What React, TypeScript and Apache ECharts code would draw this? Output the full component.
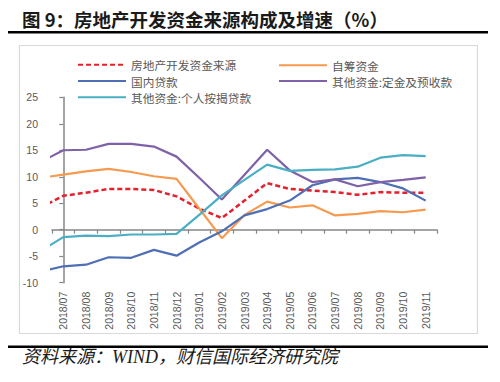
import React, { useEffect, useRef } from "react";
import * as echarts from "echarts";

const categories = [
  "2018/07", "2018/08", "2018/09", "2018/10", "2018/11", "2018/12",
  "2019/01", "2019/02", "2019/03", "2019/04", "2019/05", "2019/06",
  "2019/07", "2019/08", "2019/09", "2019/10", "2019/11",
];
const yTicks = { min: -10, max: 25, interval: 5 };

// 2018/06 values (only the clipped lead-in segment left of the first month is visible)
const leadIn = { total: 4.2, selfRaised: 9.8, domestic: -7.9, deposits: 12.8, mortgages: -4.0 };

const totalFunds = [6.4, 7.0, 7.7, 7.7, 7.5, 6.3, 4.0, 2.2, 5.5, 8.8, 7.7, 7.4, 7.1, 6.6, 7.1, 7.0, 7.0];
const selfRaised = [10.4, 11.0, 11.5, 10.9, 10.1, 9.6, 4.0, -1.6, 2.8, 5.3, 4.2, 4.6, 2.7, 3.0, 3.5, 3.3, 3.8];
const domesticLoans = [-6.9, -6.6, -5.2, -5.3, -3.8, -4.9, -2.4, -0.3, 2.7, 3.9, 5.5, 8.4, 9.5, 9.8, 9.0, 7.8, 5.5];
const deposits = [15.0, 15.1, 16.2, 16.2, 15.7, 13.8, 9.8, 5.7, 10.4, 15.1, 11.2, 9.0, 9.5, 8.2, 9.0, 9.4, 9.9];
const mortgages = [-1.4, -1.1, -1.2, -0.9, -0.9, -0.8, 2.8, 6.5, 9.4, 12.3, 11.1, 11.3, 11.4, 11.9, 13.6, 14.1, 13.9];

const names = {
  total: "房地产开发资金来源",
  selfRaised: "自筹资金",
  domestic: "国内贷款",
  deposits: "其他资金:定金及预收款",
  mortgages: "其他资金:个人按揭贷款",
};

const toPoints = (lead: number, vals: number[]) =>
  [[-1, lead] as [number, number]].concat(vals.map((v, i) => [i, v] as [number, number]));

const GRAY = "#595959";
const AXIS = "#868686";
const CJK = "'Noto Sans CJK SC', sans-serif";
const NUM = "'Liberation Sans', Arial, sans-serif";

export default function App() {
  const ref = useRef<HTMLDivElement>(null);
  useEffect(() => {
    if (!ref.current) return;
    const chart = echarts.init(ref.current, null, { renderer: "svg" });
    const mk = (name: string, lead: number, vals: number[], color: string, extra: any = {}) => ({
      name,
      type: "line",
      xAxisIndex: 2,
      yAxisIndex: 0,
      symbol: "none",
      clip: true,
      data: toPoints(lead, vals),
      lineStyle: { color, width: 2.2, ...extra },
      itemStyle: { color },
    });
    const legendCommon = {
      orient: "vertical",
      itemWidth: 48,
      itemHeight: 12,
      itemGap: 4.5,
      itemStyle: { opacity: 0 },
      textStyle: { color: GRAY, fontSize: 11.7, fontFamily: CJK },
    };
    chart.setOption({
      animation: false,
      backgroundColor: "#ffffff",
      grid: { left: 52, right: 63, top: 97.3, bottom: 99.3, containLabel: false, outerBoundsMode: "none" },
      legend: [
        { ...legendCommon, data: [names.total, names.domestic, names.mortgages], left: 72, top: 54 },
        { ...legendCommon, data: [names.selfRaised, names.deposits], left: 273, top: 54.5, itemGap: 4 },
      ],
      xAxis: [
        {
          type: "category",
          data: categories,
          boundaryGap: true,
          axisLine: { show: true, onZero: true, lineStyle: { color: AXIS, width: 1.5 } },
          axisTick: { show: true, interval: 0, length: 4, lineStyle: { color: AXIS, width: 1.2 } },
          axisLabel: { show: false },
          splitLine: { show: false },
        },
        {
          type: "category",
          data: categories,
          position: "bottom",
          boundaryGap: true,
          axisLine: { show: false, onZero: false },
          axisTick: { show: false },
          axisLabel: {
            show: true,
            interval: 0,
            rotate: 90,
            margin: 9,
            color: GRAY,
            fontSize: 10.5,
            fontFamily: NUM,
          },
          splitLine: { show: false },
        },
        {
          type: "value",
          min: -0.5,
          max: categories.length - 0.5,
          show: false,
          splitLine: { show: false },
        },
      ],
      yAxis: {
        type: "value",
        min: yTicks.min,
        max: yTicks.max,
        interval: yTicks.interval,
        axisLine: { show: true, lineStyle: { color: AXIS, width: 1.5 } },
        axisTick: { show: true, length: 4, lineStyle: { color: AXIS, width: 1.2 } },
        axisLabel: { color: GRAY, fontSize: 10.5, fontFamily: NUM, margin: 14 },
        splitLine: { show: false },
      },
      series: [
        mk(names.total, leadIn.total, totalFunds, "#e3202c", { type: [5, 3], width: 2.5 }),
        mk(names.selfRaised, leadIn.selfRaised, selfRaised, "#f59a4f"),
        mk(names.domestic, leadIn.domestic, domesticLoans, "#4e6fb5"),
        mk(names.deposits, leadIn.deposits, deposits, "#7e61a6"),
        mk(names.mortgages, leadIn.mortgages, mortgages, "#4aaec4"),
      ],
      graphic: [
        {
          type: "rect",
          z: -10,
          shape: { x: 19.5, y: 45.5, width: 458, height: 288 },
          style: { fill: "none", stroke: "#d9d9d9", lineWidth: 1.2 },
        },
        {
          type: "text",
          x: 22,
          y: 19,
          style: {
            text: "图 9：房地产开发资金来源构成及增速（%）",
            fontSize: 18.5,
            fontWeight: "bold",
            fontFamily: CJK,
            fill: "#1a1a1a",
            verticalAlign: "middle",
            align: "left",
          },
        },
        {
          type: "line",
          shape: { x1: 8, y1: 32.3, x2: 488, y2: 32.3 },
          style: { stroke: "#000000", lineWidth: 2.5 },
        },
        {
          type: "line",
          shape: { x1: 8, y1: 346.7, x2: 488, y2: 346.7 },
          style: { stroke: "#000000", lineWidth: 2.5 },
        },
        {
          type: "text",
          x: 22,
          y: 357,
          style: {
            text: "资料来源：WIND，财信国际经济研究院",
            fontSize: 18,
            fontStyle: "italic",
            fontFamily: "'Liberation Serif', 'Noto Sans CJK SC', serif",
            fill: "#1a1a1a",
            verticalAlign: "middle",
            align: "left",
          },
        },
      ],
    });
    return () => chart.dispose();
  }, []);
  return (
    <div
      ref={ref}
      style={{ position: "absolute", left: 0, top: 0, width: 500, height: 382, background: "#fff" }}
    />
  );
}
